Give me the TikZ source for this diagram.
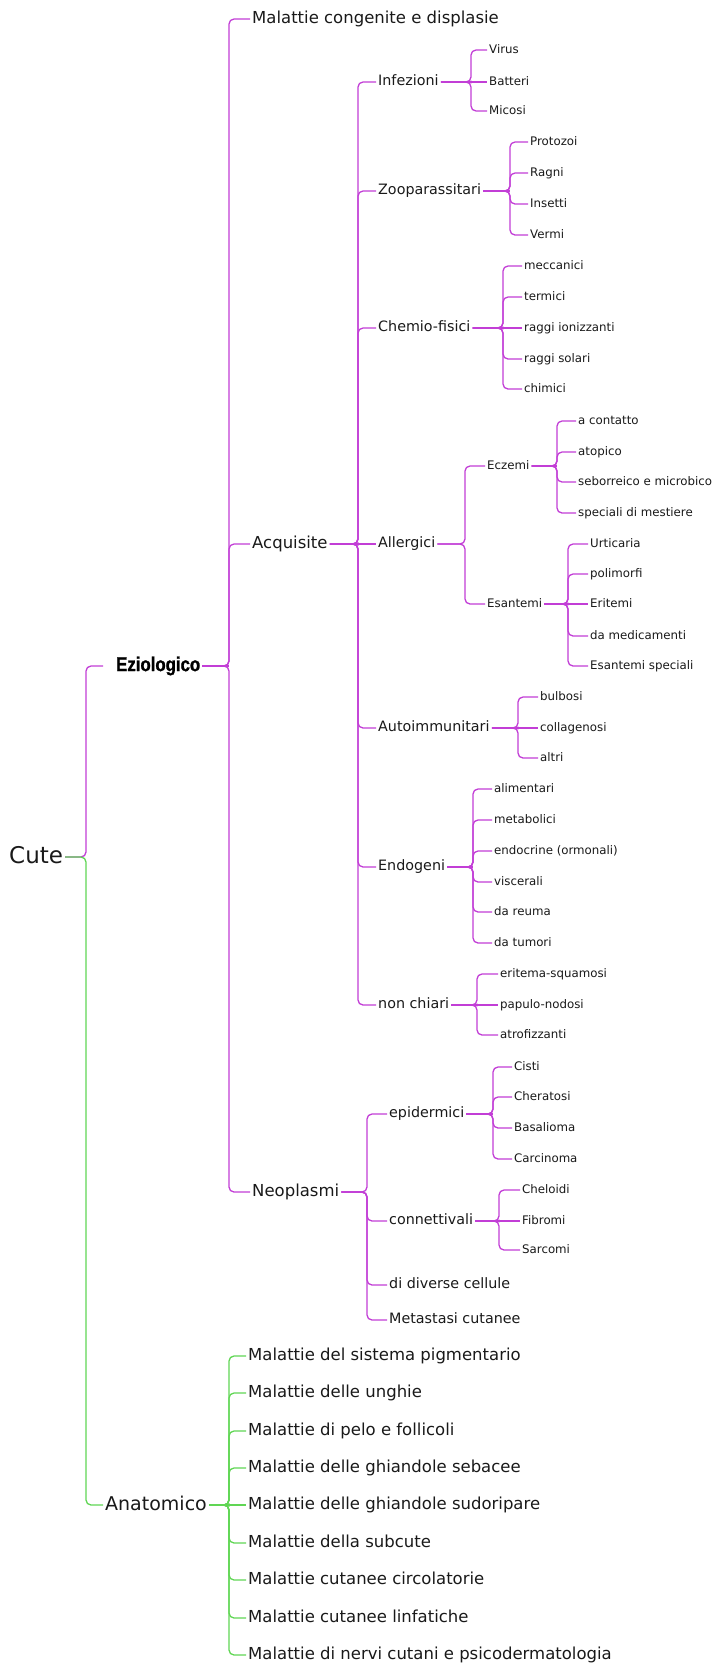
\documentclass[tikz,border=0pt]{standalone}
\usepackage{fontspec}
\setmainfont{DejaVu Sans}
\newfontfamily\ezfont{Liberation Sans}[FakeStretch=0.84,FakeBold=1.2]
\usepackage{tikz}
\usetikzlibrary{calc}

\definecolor{mapmagenta}{RGB}{194,62,214}
\definecolor{mapgreen}{RGB}{96,214,84}

\begin{document}
\begin{tikzpicture}[x=1pt,y=-1pt,
    every node/.style={anchor=west,inner xsep=2pt,inner ysep=0pt,text=black!90},
    rootnode/.style={font=\fontsize{23}{26}\selectfont,text height=17.5pt,text depth=4.8pt},
    eznode/.style={font=\ezfont\bfseries\fontsize{20}{23}\selectfont,text=black,text height=15pt,text depth=4.8pt},
    topnode/.style={font=\fontsize{19}{22}\selectfont,text height=14.6pt,text depth=4.2pt},
    mainnode/.style={font=\fontsize{16.5}{19}\selectfont,text height=13pt,text depth=4pt},
    subnode/.style={font=\fontsize{14.3}{17}\selectfont,text height=11pt,text depth=3.2pt},
    leafnode/.style={font=\fontsize{11.8}{14}\selectfont,text height=9pt,text depth=2.6pt},
    mlink/.style={draw=mapmagenta,line width=1.3pt,rounded corners=5pt},
    glink/.style={draw=mapgreen,line width=1.3pt,rounded corners=5pt},
    heavy/.style={line width=2.6pt,rounded corners=0pt},
  ]
\useasboundingbox (0,0) rectangle (714,1666);

% root and first split
\node[rootnode] (cute) at (7,857) {Cute};
\node[eznode]   (ezio) at (114,666) {Eziologico};
\node[topnode]  (anat) at (103,1505) {Anatomico};

% eziologico branch
\node[mainnode] (cong) at (250,19)   {Malattie congenite e displasie};
\node[mainnode] (acq)  at (250,544)  {Acquisite};
\node[mainnode] (neo)  at (250,1192) {Neoplasmi};

\node[subnode] (inf)  at (376,82)   {Infezioni};
\node[subnode] (zoo)  at (376,191)  {Zooparassitari};
\node[subnode] (chem) at (376,328)  {Chemio-fisici};
\node[subnode] (allg) at (376,544)  {Allergici};
\node[subnode] (auto) at (376,728)  {Autoimmunitari};
\node[subnode] (endo) at (376,867)  {Endogeni};
\node[subnode] (nchi) at (376,1005) {non chiari};

\node[leafnode] (vir) at (487,50)  {Virus};
\node[leafnode] (bat) at (487,82)  {Batteri};
\node[leafnode] (mic) at (487,111) {Micosi};

\node[leafnode] (prot) at (528,142) {Protozoi};
\node[leafnode] (ragn) at (528,173) {Ragni};
\node[leafnode] (inse) at (528,204) {Insetti};
\node[leafnode] (verm) at (528,235) {Vermi};

\node[leafnode] (mecc) at (522,266) {meccanici};
\node[leafnode] (term) at (522,297) {termici};
\node[leafnode] (ioni) at (522,328) {raggi ionizzanti};
\node[leafnode] (sola) at (522,359) {raggi solari};
\node[leafnode] (chim) at (522,389) {chimici};

\node[leafnode] (ecz) at (485,466) {Eczemi};
\node[leafnode] (esa) at (485,604) {Esantemi};

\node[leafnode] (cont) at (576,421) {a contatto};
\node[leafnode] (atop) at (576,452) {atopico};
\node[leafnode] (sebo) at (576,482) {seborreico e microbico};
\node[leafnode] (mest) at (576,513) {speciali di mestiere};

\node[leafnode] (urti) at (588,544) {Urticaria};
\node[leafnode] (poli) at (588,574) {polimorfi};
\node[leafnode] (erit) at (588,604) {Eritemi};
\node[leafnode] (medi) at (588,636) {da medicamenti};
\node[leafnode] (espe) at (588,666) {Esantemi speciali};

\node[leafnode] (bulb) at (538,697) {bulbosi};
\node[leafnode] (coll) at (538,728) {collagenosi};
\node[leafnode] (altr) at (538,758) {altri};

\node[leafnode] (alim) at (492,789) {alimentari};
\node[leafnode] (meta) at (492,820) {metabolici};
\node[leafnode] (endc) at (492,851) {endocrine (ormonali)};
\node[leafnode] (visc) at (492,882) {viscerali};
\node[leafnode] (reum) at (492,912) {da reuma};
\node[leafnode] (tumo) at (492,943) {da tumori};

\node[leafnode] (squa) at (498,974)  {eritema-squamosi};
\node[leafnode] (papu) at (498,1005) {papulo-nodosi};
\node[leafnode] (atro) at (498,1035) {atrofizzanti};

\node[subnode] (epid) at (387,1114) {epidermici};
\node[subnode] (conn) at (387,1221) {connettivali};
\node[subnode] (dive) at (387,1285) {di diverse cellule};
\node[subnode] (meta2) at (387,1320) {Metastasi cutanee};

\node[leafnode] (cist) at (512,1067) {Cisti};
\node[leafnode] (cher) at (512,1097) {Cheratosi};
\node[leafnode] (basa) at (512,1128) {Basalioma};
\node[leafnode] (carc) at (512,1159) {Carcinoma};

\node[leafnode] (chel) at (520,1190) {Cheloidi};
\node[leafnode] (fibr) at (520,1221) {Fibromi};
\node[leafnode] (sarc) at (520,1250) {Sarcomi};

% anatomico branch
\node[mainnode] (an1) at (246,1356) {Malattie del sistema pigmentario};
\node[mainnode] (an2) at (246,1393) {Malattie delle unghie};
\node[mainnode] (an3) at (246,1431) {Malattie di pelo e follicoli};
\node[mainnode] (an4) at (246,1468) {Malattie delle ghiandole sebacee};
\node[mainnode] (an5) at (246,1505) {Malattie delle ghiandole sudoripare};
\node[mainnode] (an6) at (246,1543) {Malattie della subcute};
\node[mainnode] (an7) at (246,1580) {Malattie cutanee circolatorie};
\node[mainnode] (an8) at (246,1618) {Malattie cutanee linfatiche};
\node[mainnode] (an9) at (246,1655) {Malattie di nervi cutani e psicodermatologia};

% connectors: cute
\coordinate (ezin) at ([xshift=-11pt]ezio.west);
\draw[mlink] (cute.east) -- ([xshift=-17pt]ezin |- cute.east) -- ([xshift=-17pt]ezin) -- (ezin);
\draw[glink] (cute.east) -- ([xshift=-17pt]anat.west |- cute.east) -- ([xshift=-17pt]anat.west) -- (anat.west);

% eziologico
\foreach \c in {cong,acq,neo}
  \draw[mlink] (ezio.east) -- ([xshift=-21pt]\c.west |- ezio.east) -- ([xshift=-21pt]\c.west) -- (\c.west);
\draw[mlink,heavy] (ezio.east) -- ([xshift=-21pt]acq.west |- ezio.east);

% acquisite
\foreach \c in {inf,zoo,chem,auto,endo,nchi}
  \draw[mlink] (acq.east) -- ([xshift=-18pt]\c.west |- acq.east) -- ([xshift=-18pt]\c.west) -- (\c.west);
\draw[mlink] (acq.east) -- (allg.west);
\fill[mapmagenta] ([xshift=-18pt]allg.west) circle[radius=1.8pt];

\foreach \c in {vir,mic}
  \draw[mlink] (inf.east) -- ([xshift=-16pt]\c.west |- inf.east) -- ([xshift=-16pt]\c.west) -- (\c.west);
\draw[mlink] (inf.east) -- (bat.west);
\fill[mapmagenta] ([xshift=-16pt]bat.west) circle[radius=1.6pt];

\foreach \c in {prot,ragn,inse,verm}
  \draw[mlink] (zoo.east) -- ([xshift=-18pt]\c.west |- zoo.east) -- ([xshift=-18pt]\c.west) -- (\c.west);
\draw[mlink,heavy] (zoo.east) -- ([xshift=-18pt]prot.west |- zoo.east);

\foreach \c in {mecc,term,sola,chim}
  \draw[mlink] (chem.east) -- ([xshift=-19pt]\c.west |- chem.east) -- ([xshift=-19pt]\c.west) -- (\c.west);
\draw[mlink] (chem.east) -- (ioni.west);
\fill[mapmagenta] ([xshift=-19pt]ioni.west) circle[radius=1.6pt];

\foreach \c in {ecz,esa}
  \draw[mlink] (allg.east) -- ([xshift=-20pt]\c.west |- allg.east) -- ([xshift=-20pt]\c.west) -- (\c.west);

\foreach \c in {cont,atop,sebo,mest}
  \draw[mlink] (ecz.east) -- ([xshift=-19pt]\c.west |- ecz.east) -- ([xshift=-19pt]\c.west) -- (\c.west);
\draw[mlink,heavy] (ecz.east) -- ([xshift=-19pt]cont.west |- ecz.east);

\foreach \c in {urti,poli,medi,espe}
  \draw[mlink] (esa.east) -- ([xshift=-20pt]\c.west |- esa.east) -- ([xshift=-20pt]\c.west) -- (\c.west);
\draw[mlink] (esa.east) -- (erit.west);
\fill[mapmagenta] ([xshift=-20pt]erit.west) circle[radius=1.6pt];

\foreach \c in {bulb,altr}
  \draw[mlink] (auto.east) -- ([xshift=-20pt]\c.west |- auto.east) -- ([xshift=-20pt]\c.west) -- (\c.west);
\draw[mlink] (auto.east) -- (coll.west);
\fill[mapmagenta] ([xshift=-20pt]coll.west) circle[radius=1.6pt];

\foreach \c in {alim,meta,endc,visc,reum,tumo}
  \draw[mlink] (endo.east) -- ([xshift=-19pt]\c.west |- endo.east) -- ([xshift=-19pt]\c.west) -- (\c.west);
\draw[mlink,heavy] (endo.east) -- ([xshift=-19pt]alim.west |- endo.east);

\foreach \c in {squa,atro}
  \draw[mlink] (nchi.east) -- ([xshift=-21pt]\c.west |- nchi.east) -- ([xshift=-21pt]\c.west) -- (\c.west);
\draw[mlink] (nchi.east) -- (papu.west);
\fill[mapmagenta] ([xshift=-21pt]papu.west) circle[radius=1.6pt];

% neoplasmi
\foreach \c in {epid,conn,dive,meta2}
  \draw[mlink] (neo.east) -- ([xshift=-20pt]\c.west |- neo.east) -- ([xshift=-20pt]\c.west) -- (\c.west);

\foreach \c in {cist,cher,basa,carc}
  \draw[mlink] (epid.east) -- ([xshift=-19pt]\c.west |- epid.east) -- ([xshift=-19pt]\c.west) -- (\c.west);
\draw[mlink,heavy] (epid.east) -- ([xshift=-19pt]cist.west |- epid.east);

\foreach \c in {chel,sarc}
  \draw[mlink] (conn.east) -- ([xshift=-21pt]\c.west |- conn.east) -- ([xshift=-21pt]\c.west) -- (\c.west);
\draw[mlink] (conn.east) -- (fibr.west);
\fill[mapmagenta] ([xshift=-21pt]fibr.west) circle[radius=1.6pt];

% anatomico
\foreach \c in {an1,an2,an3,an4,an6,an7,an8,an9}
  \draw[glink] (anat.east) -- ([xshift=-17pt]\c.west |- anat.east) -- ([xshift=-17pt]\c.west) -- (\c.west);
\draw[glink] (anat.east) -- (an5.west);
\draw[glink,heavy] (anat.east) -- ([xshift=-17pt]an5.west);
\fill[mapgreen] ([xshift=-17pt]an5.west) circle[radius=1.8pt];
\end{tikzpicture}
\end{document}
